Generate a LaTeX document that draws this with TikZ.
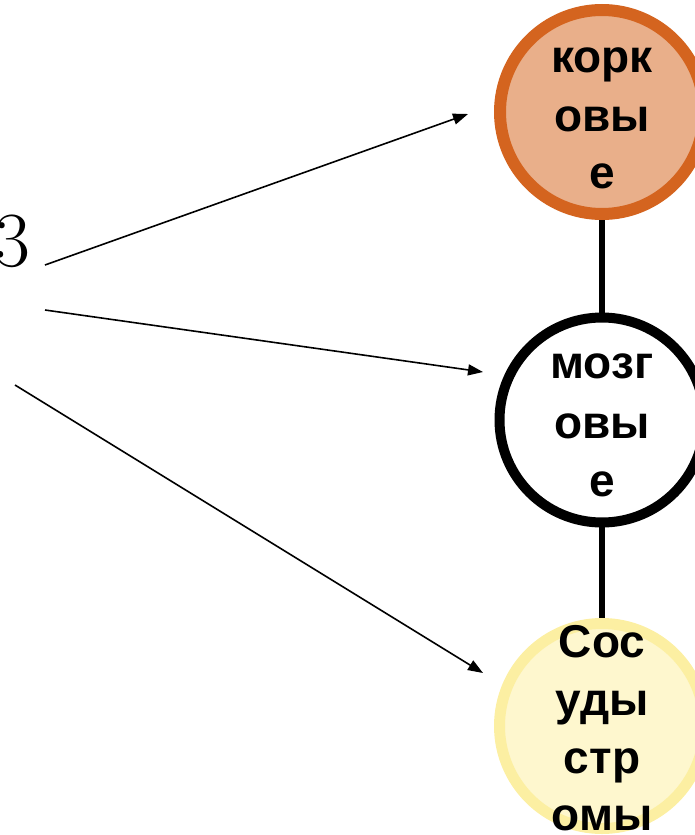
\documentclass[tikz,border=0pt]{standalone}
\usepackage{fontspec}
\newfontfamily\labfont{Liberation Sans}
\usetikzlibrary{arrows.meta,backgrounds}
\definecolor{ringA}{HTML}{D4641F}
\definecolor{fillA}{HTML}{E9AF8A}
\definecolor{ringC}{HTML}{FCEFA2}
\definecolor{fillC}{HTML}{FEF7CE}
\tikzset{
  circ/.style={circle, inner sep=0pt, minimum size=#1},
  lbl/.style={anchor=base, inner sep=0pt, font=\labfont\bfseries\fontsize{46}{58}\selectfont},
  arr/.style={line width=1.6pt, -{Triangle[length=15pt,width=11pt]}},
  link/.style={line width=6pt}
}
\begin{document}
\begin{tikzpicture}[x=1pt,y=-1pt]
\useasboundingbox (0,0) rectangle (694,835);
% circles
\node[circ=204pt, draw=ringA, line width=12pt, fill=fillA] (top) at (602,112) {};
\node[circ=205pt, draw=black, line width=10pt, fill=white] (mid) at (602,420) {};
\node[circ=205pt, draw=ringC, line width=11pt, fill=fillC] (bot) at (602,726) {};
\begin{scope}[on background layer]
\draw[link] (top.center) -- (mid.center);
\draw[link] (mid.center) -- (bot.center);
\end{scope}
% labels
\node[lbl] (t1) at (602,72) {корк};
\node[lbl] (t2) at (602,131) {овы};
\node[lbl] (t3) at (602,188) {е};
\node[lbl] (m1) at (602,378) {мозг};
\node[lbl] (m2) at (602,438) {овы};
\node[lbl] (m3) at (602,496) {е};
\node[lbl] (b1) at (602,657) {Сос};
\node[lbl] (b2) at (602,715) {уды};
\node[lbl] (b3) at (602,773) {стр};
\node[lbl] (b4) at (602,830) {омы};
% left glyph
\node[anchor=base east, inner sep=0pt, font=\fontsize{78}{80}\selectfont] (g) at (31,266) {3};
% arrows
\coordinate (s1) at (45,265);
\coordinate (e1) at (468,114);
\coordinate (s2) at (45,310);
\coordinate (e2) at (483,372);
\coordinate (s3) at (15,385);
\coordinate (e3) at (483,673);
\draw[arr] (s1) -- (e1);
\draw[arr] (s2) -- (e2);
\draw[arr] (s3) -- (e3);
\end{tikzpicture}
\end{document}
